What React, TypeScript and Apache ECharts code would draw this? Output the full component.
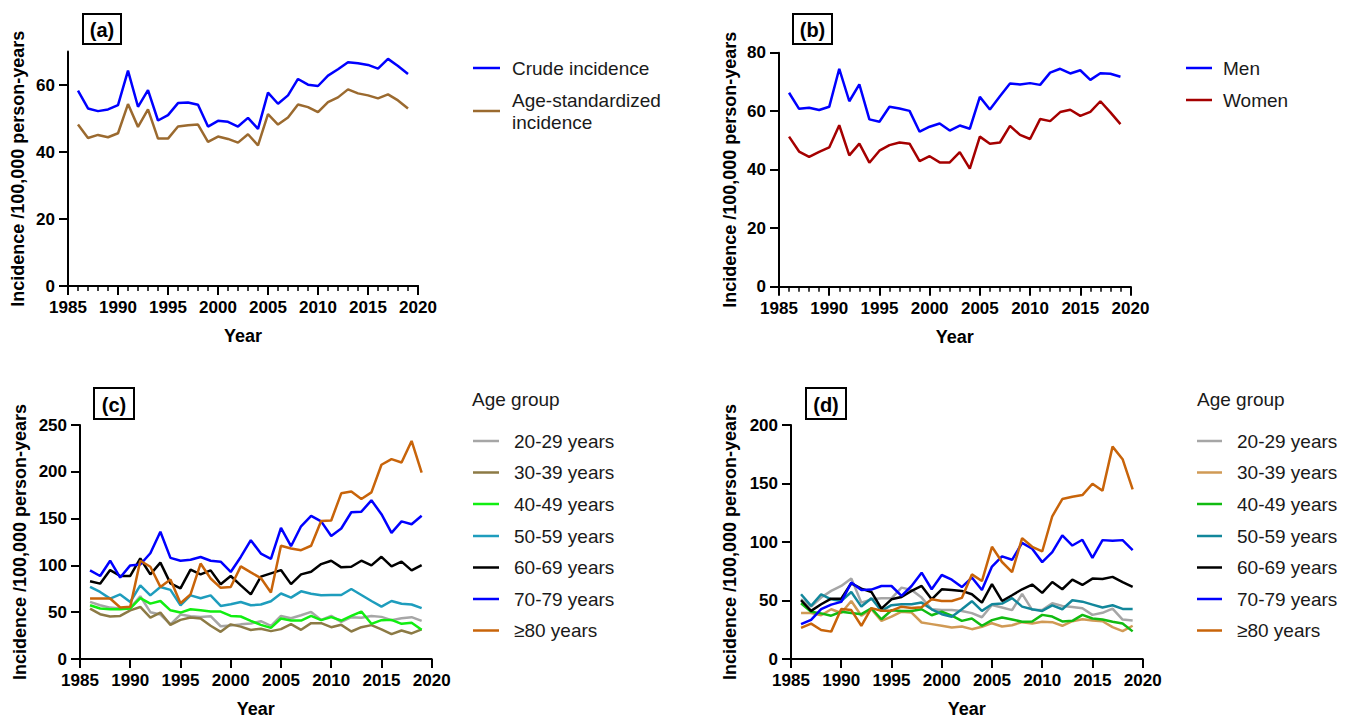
import React, { useEffect, useRef } from "react";
import * as echarts from "echarts";

const years = [1986, 1987, 1988, 1989, 1990, 1991, 1992, 1993, 1994, 1995, 1996, 1997, 1998, 1999, 2000, 2001, 2002, 2003, 2004, 2005, 2006, 2007, 2008, 2009, 2010, 2011, 2012, 2013, 2014, 2015, 2016, 2017, 2018, 2019];

// Panel (a)
const crudeIncidence = [58.3, 53.0, 52.2, 52.7, 54.0, 64.3, 53.5, 58.5, 49.4, 51.0, 54.6, 54.8, 54.1, 47.6, 49.3, 49.0, 47.6, 50.2, 46.9, 57.7, 54.4, 56.9, 61.8, 60.1, 59.7, 62.8, 64.7, 66.8, 66.5, 66.0, 64.9, 67.8, 65.7, 63.3];
const ageStdIncidence = [48.2, 44.2, 45.1, 44.4, 45.6, 54.3, 47.5, 52.7, 44.0, 44.0, 47.6, 48.0, 48.2, 43.0, 44.6, 43.9, 42.8, 45.3, 42.0, 51.3, 48.2, 50.3, 54.2, 53.4, 51.9, 54.9, 56.3, 58.7, 57.5, 56.9, 56.0, 57.2, 55.4, 53.0];

// Panel (b)
const men = [66.3, 60.8, 61.2, 60.4, 61.5, 74.5, 63.4, 69.2, 57.2, 56.4, 61.5, 60.9, 60.1, 53.0, 54.7, 55.8, 53.4, 55.1, 54.0, 64.9, 60.6, 65.1, 69.5, 69.1, 69.6, 69.0, 73.2, 74.5, 72.9, 74.0, 70.7, 73.0, 72.8, 71.8];
const women = [51.3, 46.2, 44.4, 46.1, 47.6, 55.2, 44.9, 48.9, 42.4, 46.5, 48.4, 49.3, 48.9, 42.9, 44.6, 42.5, 42.5, 46.0, 40.4, 51.3, 48.9, 49.3, 55.0, 51.9, 50.5, 57.3, 56.6, 59.7, 60.5, 58.4, 59.8, 63.4, 59.6, 55.6];

// Panel (c)
const c20 = [61, 57.4, 54.9, 53.9, 54.6, 67, 50, 47.5, 37, 47.5, 45.7, 45, 45.7, 35, 35.8, 37, 38, 40.4, 35.5, 46, 43.6, 46.8, 50.3, 41.8, 46, 39.7, 44.7, 44, 46, 45, 41.5, 43.6, 44.7, 40.8];
const c30 = [53.9, 47.9, 45.4, 46, 52, 55.6, 44.3, 49.6, 36.5, 41.8, 44.3, 43.3, 35.5, 29, 37, 34.6, 31, 32.3, 29.8, 31.9, 37.2, 31.2, 38.3, 38.3, 34, 36.5, 29.4, 34, 36.2, 31.6, 26.6, 30.5, 27.3, 31.6];
const c40 = [57.4, 53.9, 53.2, 53.2, 54, 65, 59.2, 62, 52, 49.6, 53.2, 52, 50.7, 50.7, 46, 45.4, 40.8, 36.5, 33.3, 43.3, 41.1, 41.1, 46, 41.5, 44.7, 41.1, 46, 50.7, 37.6, 41.5, 41.8, 37.6, 38.7, 31.2];
const c50 = [77, 71.6, 64.5, 69, 60.9, 78.7, 68, 77, 73.8, 57.4, 68, 64.9, 68, 56.7, 58.5, 60.9, 57.4, 58.2, 61.7, 70, 65.6, 72.3, 69.8, 68, 68.4, 68.4, 74.8, 68.4, 62, 56, 62, 59, 58.2, 54.3];
const c60 = [83, 80.5, 95, 88.7, 88.7, 107.4, 90.4, 103, 80.8, 75.5, 95.4, 90.4, 94.7, 79.8, 88.7, 78.7, 69, 88, 91.5, 95, 80, 90.4, 93.3, 101.4, 105, 97.9, 98.6, 105, 100, 109.2, 98.9, 104, 94.7, 100.4];
const c70 = [94.7, 88.7, 105, 87, 100, 101, 113, 136, 108, 105, 106, 109, 105, 104, 93, 109, 127, 112.6, 107, 140, 120.5, 141.8, 153, 147, 131.5, 139.4, 156.8, 157.4, 169.5, 154.7, 134.8, 147, 143.9, 153];
const c80 = [64.6, 64.6, 64.6, 55, 55.7, 105, 98.6, 77, 85, 59.6, 69, 102, 86, 76, 77, 99, 92.5, 86.5, 71, 121, 118, 116.3, 121, 147.5, 148, 177, 179, 171, 178, 207.5, 213.5, 210, 233, 199];

// Panel (d)
const d20 = [51, 44.8, 52.5, 58.2, 62.4, 68.9, 48.2, 51, 51.9, 51.9, 61, 59, 52.5, 42.5, 41.8, 41.8, 41.1, 39.2, 35.7, 46.2, 44, 41.8, 55.6, 42, 41.8, 47.7, 45.4, 44.5, 43.4, 37.7, 39.5, 43.1, 33.7, 32.9];
const d30 = [39.3, 39.3, 37.4, 42.5, 39.3, 49.6, 37, 42.5, 32.6, 36.3, 40.4, 39.7, 31.2, 29.8, 28.4, 27, 27.8, 25.5, 27.5, 30.6, 27.8, 28.9, 31.5, 30.4, 31.8, 31.5, 28.4, 32.3, 34, 32.9, 32.3, 27.2, 23.8, 28.4];
const d40 = [47.7, 40.4, 39, 37, 40.4, 39.3, 38.3, 43.4, 34, 41.7, 41.1, 41.1, 42.5, 37.4, 40.4, 37, 32.6, 34.6, 28.4, 33.2, 35.5, 33.8, 31.8, 32.1, 37.7, 36.3, 32.1, 32.6, 37.7, 34.6, 33.8, 31.8, 30.4, 23.6];
const d50 = [55.3, 45.4, 55.3, 51, 49.6, 57.3, 44.8, 51.9, 41.1, 46, 46.8, 46.8, 48.2, 42.5, 38.3, 36.1, 42.5, 49.4, 41.1, 46.8, 47.4, 52, 44.8, 42.5, 41.1, 45.9, 42.5, 50.2, 49, 46.5, 44, 45.9, 42.8, 42.8];
const d60 = [50.2, 41.1, 46.8, 51.6, 51.6, 64.7, 60.2, 57.3, 43.1, 51, 53, 58.2, 62.4, 51, 59.6, 59, 58.2, 55.3, 48.2, 64, 49.6, 54.5, 59.6, 63.6, 56.5, 65.8, 59.6, 67.8, 63.3, 68.7, 68.4, 70.2, 65.7, 61.7];
const d70 = [29.8, 33.5, 42.6, 46.5, 48.8, 65.3, 59, 59.3, 62.4, 62.4, 54, 62.4, 73.8, 59.6, 71.8, 67.8, 61.5, 69.6, 59, 79, 87.7, 84.8, 99.2, 94.2, 82.8, 91.3, 105.7, 97, 101.9, 86.4, 101.6, 101, 101.6, 93];
const d80 = [26.6, 30.2, 24.8, 23.4, 42.7, 41.8, 28.4, 43.5, 41.3, 41.3, 44.7, 43.5, 44.3, 51, 49.6, 49.6, 52.2, 72.3, 66.6, 95.9, 82.9, 74.3, 103.3, 95.9, 91.9, 122, 136.7, 138.7, 140.1, 149.8, 143.8, 181.5, 170.8, 145];

const ageGroups = ["20-29 years", "30-39 years", "40-49 years", "50-59 years", "60-69 years", "70-79 years", "≥80 years"];
const colorsC = ["#A6A6A6", "#8C7A45", "#11EE11", "#1E9DBD", "#000000", "#0000FF", "#C8640A"];
const colorsD = ["#A6A6A6", "#D09A55", "#11BB11", "#12879B", "#000000", "#0000FF", "#C8640A"];
const seriesC = [c20, c30, c40, c50, c60, c70, c80];
const seriesD = [d20, d30, d40, d50, d60, d70, d80];

const yTitle = "Incidence /100,000 person-years";
const FONT = "'Liberation Sans', Arial, Helvetica, sans-serif";

const grids = [
  { left: 68, top: 51.5, width: 350, height: 234.5 },
  { left: 779, top: 52.7, width: 351.5, height: 234 },
  { left: 80, top: 425, width: 351.7, height: 235 },
  { left: 791, top: 425, width: 351.7, height: 235 },
];

function makeX(gridIndex: number) {
  return {
    type: "value",
    gridIndex,
    position: "bottom",
    min: 1985,
    max: 2020,
    interval: 5,
    name: "Year",
    nameLocation: "middle",
    nameGap: 41,
    nameTextStyle: { fontFamily: FONT, fontWeight: "bold", fontSize: 18, color: "#000" },
    axisLine: { show: true, onZero: false, lineStyle: { color: "#000", width: 2 } },
    axisTick: { show: true, length: 9, lineStyle: { color: "#000", width: 2 } },
    axisLabel: { fontFamily: FONT, fontWeight: "bold", fontSize: 17, color: "#000", margin: 13, formatter: (v: number) => String(v) },
    splitLine: { show: false },
  };
}

// yearly minor ticks (panels a and b)
function makeMinorX(gridIndex: number) {
  return {
    type: "value",
    gridIndex,
    position: "bottom",
    min: 1985,
    max: 2020,
    interval: 1,
    axisLine: { show: true, onZero: false, lineStyle: { color: "#000", width: 2 } },
    axisTick: { show: true, length: 5, lineStyle: { color: "#000", width: 1.5 } },
    axisLabel: { show: false },
    splitLine: { show: false },
  };
}

function makeY(gridIndex: number, max: number, interval: number, nameGap: number, custom?: number[]) {
  const label: any = { fontFamily: FONT, fontWeight: "bold", fontSize: 17, color: "#000", margin: 13, formatter: (v: number) => String(v) };
  const tick: any = { show: true, length: 9, lineStyle: { color: "#000", width: 2 } };
  if (custom) {
    label.customValues = custom;
    tick.customValues = custom;
  }
  return {
    type: "value",
    gridIndex,
    min: 0,
    max,
    interval,
    name: yTitle,
    nameLocation: "middle",
    nameRotate: 90,
    nameGap,
    nameTextStyle: { fontFamily: FONT, fontWeight: "bold", fontSize: 18, color: "#000" },
    axisLine: { show: true, onZero: false, lineStyle: { color: "#000", width: 2 } },
    axisTick: tick,
    axisLabel: label,
    splitLine: { show: false },
  };
}

function line(name: string, values: number[], color: string, idx: number) {
  return {
    type: "line",
    name,
    xAxisIndex: idx,
    yAxisIndex: idx,
    data: years.map((y, i) => [y, values[i]]),
    symbol: "none",
    showSymbol: false,
    lineStyle: { color, width: 2.5 },
    itemStyle: { color },
    silent: true,
  };
}

function panelBox(label: string, x: number, y: number, w: number, h: number) {
  return [
    { type: "rect", shape: { x, y, width: w, height: h }, style: { fill: "#fff", stroke: "#000", lineWidth: 2 } },
    {
      type: "text",
      x: x + w / 2,
      y: y + h / 2 + 1,
      style: { text: label, fontFamily: FONT, fontWeight: "bold", fontSize: 20, fill: "#000", align: "center", verticalAlign: "middle" },
    },
  ];
}

function legendItem(text: string, color: string, lx: number, ly: number, tx: number, len: number) {
  return [
    { type: "line", shape: { x1: lx, y1: ly, x2: lx + len, y2: ly }, style: { stroke: color, lineWidth: 2.5 } },
    {
      type: "text",
      x: tx,
      y: ly,
      style: { text, fontFamily: FONT, fontSize: 19, fill: "#1a1a1a", align: "left", verticalAlign: "middle", lineHeight: 22 },
    },
  ];
}

export default function App() {
  const ref = useRef<HTMLDivElement>(null);
  useEffect(() => {
    if (!ref.current) return;
    const chart = echarts.init(ref.current, undefined, { renderer: "svg" });

    const legendYs = [441, 472.5, 504, 536, 567.5, 599, 630.5];
    const graphic: any[] = [
      ...panelBox("(a)", 83, 14, 38, 30),
      ...panelBox("(b)", 793, 14, 39, 30),
      ...panelBox("(c)", 94, 388, 40, 31),
      ...panelBox("(d)", 806, 388, 40, 31),
      ...legendItem("Crude incidence", "#0000FF", 473, 68, 512, 27),
      ...legendItem("Age-standardized\nincidence", "#9B6A2F", 473, 111, 512, 27),
      ...legendItem("Men", "#0000FF", 1186, 68, 1223, 26),
      ...legendItem("Women", "#A50000", 1186, 100, 1223, 26),
      { type: "text", x: 472, y: 399, style: { text: "Age group", fontFamily: FONT, fontSize: 19, fill: "#1a1a1a", align: "left", verticalAlign: "middle" } },
      { type: "text", x: 1197, y: 399, style: { text: "Age group", fontFamily: FONT, fontSize: 19, fill: "#1a1a1a", align: "left", verticalAlign: "middle" } },
    ];
    ageGroups.forEach((g, i) => {
      graphic.push(...legendItem(g, colorsC[i], 473, legendYs[i], 514, 26));
      graphic.push(...legendItem(g, colorsD[i], 1197, legendYs[i], 1237, 25));
    });

    const series: any[] = [
      line("Crude incidence", crudeIncidence, "#0000FF", 0),
      line("Age-standardized incidence", ageStdIncidence, "#9B6A2F", 0),
      line("Men", men, "#0000FF", 1),
      line("Women", women, "#A50000", 1),
    ];
    ageGroups.forEach((g, i) => {
      series.push(line(g + " (c)", seriesC[i], colorsC[i], 2));
    });
    ageGroups.forEach((g, i) => {
      series.push(line(g + " (d)", seriesD[i], colorsD[i], 3));
    });

    chart.setOption({
      animation: false,
      backgroundColor: "#fff",
      grid: grids.map((g) => ({ ...g, containLabel: false })),
      xAxis: [makeX(0), makeX(1), makeX(2), makeX(3), makeMinorX(0), makeMinorX(1)],
      yAxis: [
        makeY(0, 70, 20, 41, [0, 20, 40, 60]),
        makeY(1, 80, 20, 40),
        makeY(2, 250, 50, 51),
        makeY(3, 200, 50, 52),
      ],
      series,
      graphic,
    });
    return () => chart.dispose();
  }, []);
  return <div ref={ref} style={{ position: "absolute", left: 0, top: 0, width: 1352, height: 719 }} />;
}
